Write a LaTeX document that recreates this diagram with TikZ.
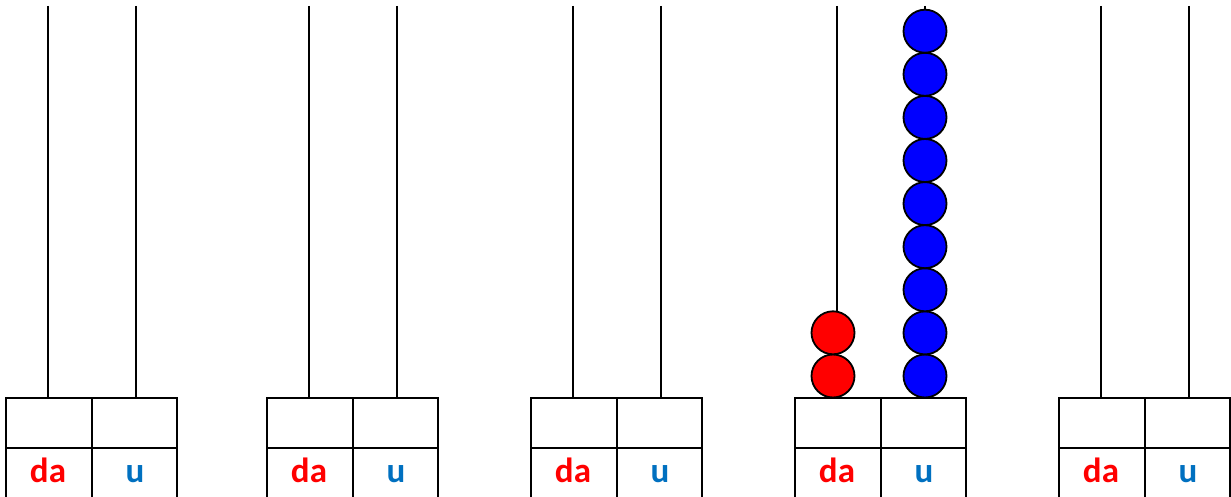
\documentclass[tikz,border=0pt]{standalone}
\usepackage{fontspec}
\setmainfont{Carlito}
\definecolor{dared}{HTML}{FF0000}
\definecolor{ublue}{HTML}{0070C0}
\definecolor{beadblue}{HTML}{0000FF}
\begin{document}
\begin{tikzpicture}[x=1pt,y=-1pt,
  rod/.style={line width=1.4pt,black},
  boxline/.style={line width=1.8pt,black},
  bead/.style={circle,draw=black,line width=1.8pt,minimum size=43pt,inner sep=0pt},
  redbead/.style={bead,fill=dared},
  bluebead/.style={bead,fill=beadblue},
  lab/.style={font=\fontsize{35}{35}\selectfont\bfseries,inner sep=0pt,anchor=base}]
\useasboundingbox (0,0) rectangle (1231,497);
\foreach \L/\i in {6/1,267/2,531/3,795/4,1059/5}{
  \draw[rod] (\L+42,6) -- (\L+42,398);
  \draw[rod] (\L+130,6) -- (\L+130,398);
  \draw[boxline] (\L,497) -- (\L,398) -- (\L+171,398) -- (\L+171,497);
  \draw[boxline] (\L+86,398) -- (\L+86,497);
  \draw[boxline] (\L,448) -- (\L+171,448);
  \node[lab,text=dared] (da\i) at (\L+42,482) {da};
  \node[lab,text=ublue] (u\i) at (\L+129,482) {u};
}
\foreach \k in {0,1}{
  \node[redbead] (r\k) at (833,376-43.2*\k) {};
}
\foreach \k in {0,...,8}{
  \node[bluebead] (b\k) at (925,376-43.1*\k) {};
}
\end{tikzpicture}
\end{document}
